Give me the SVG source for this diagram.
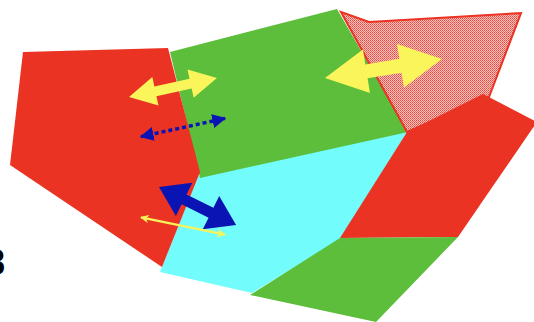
<svg xmlns="http://www.w3.org/2000/svg" width="534" height="322" viewBox="0 0 534 322">
<defs>
<pattern id="dots" width="2" height="2" patternUnits="userSpaceOnUse">
<rect width="2" height="2" fill="#f6c4c0"/>
<rect width="1" height="1" fill="#e8453b"/>
<rect x="1" y="1" width="1" height="1" fill="#ee6a62"/>
</pattern>
<marker id="bh" viewBox="0 0 10 10" refX="9" refY="5" markerWidth="4" markerHeight="4" orient="auto-start-reverse" markerUnits="strokeWidth">
<path d="M0,0 L10,5 L0,10 z" fill="#0a14b4"/>
</marker>
<marker id="yh" viewBox="0 0 10 10" refX="9" refY="5" markerWidth="4.5" markerHeight="3.5" orient="auto-start-reverse" markerUnits="strokeWidth">
<path d="M0,0 L10,5 L0,10 L3,5 z" fill="#f7f35a"/>
</marker>
</defs>
<style>
.red{fill:#ea3323}
.green{fill:#5cbe3a}
.cyan{fill:#72fcfc}
.yel{fill:#f9f55a}
.blue{fill:#0a14b4}
</style>
<g id="cyan-center"><polygon class="cyan" points="198,176 408,131 340,239 252,293 160,272"/></g>
<g id="green-top"><polygon class="green" points="170,52 337,9 408,132 200,178"/></g>
<g id="red-left"><polygon class="red" points="23,52 168,48 200,172 162,267 10,165"/></g>
<g id="pink-top-right"><polygon points="341,12 369,22 521,13 489,97 407,132" fill="url(#dots)" stroke="#ea3323" stroke-width="2" stroke-linejoin="miter"/></g>
<g id="red-right"><polygon class="red" points="407,132 483,94 537,122 458,237 340,238"/></g>
<g id="green-bottom"><polygon class="green" points="250,295 340,238 458,237 376,322"/></g>
<g id="label"><text x="-15" y="275" font-family="Liberation Sans, Arial, sans-serif" font-weight="bold" font-size="36" fill="#000">8</text></g>
<g id="arrows">
<polygon class="yel" transform="translate(129,97) rotate(-12.2)" points="0,0 27,-14.5 27,-5 63,-5 63,-14.5 90,0 63,14.5 63,5 27,5 27,14.5"/>
<polygon class="yel" transform="translate(325,78) rotate(-9.2)" points="0,0 42,-22 42,-7 76.5,-7 76.5,-22 118.5,0 76.5,22 76.5,7 42,7 42,22"/>
<polygon class="blue" transform="translate(159,187) rotate(26.3)" points="0,0 28,-18.5 28,-5.5 58,-5.5 58,-18.5 86,0 58,18.5 58,5.5 28,5.5 28,18.5"/>
<line x1="141" y1="136.6" x2="225" y2="118.4" stroke="#0a14b4" stroke-width="3.5" stroke-dasharray="4,3" marker-start="url(#bh)" marker-end="url(#bh)"/>
<line x1="141" y1="217.4" x2="225" y2="234.6" stroke="#f7f35a" stroke-width="2.5" marker-start="url(#yh)" marker-end="url(#yh)"/>
</g>
</svg>
